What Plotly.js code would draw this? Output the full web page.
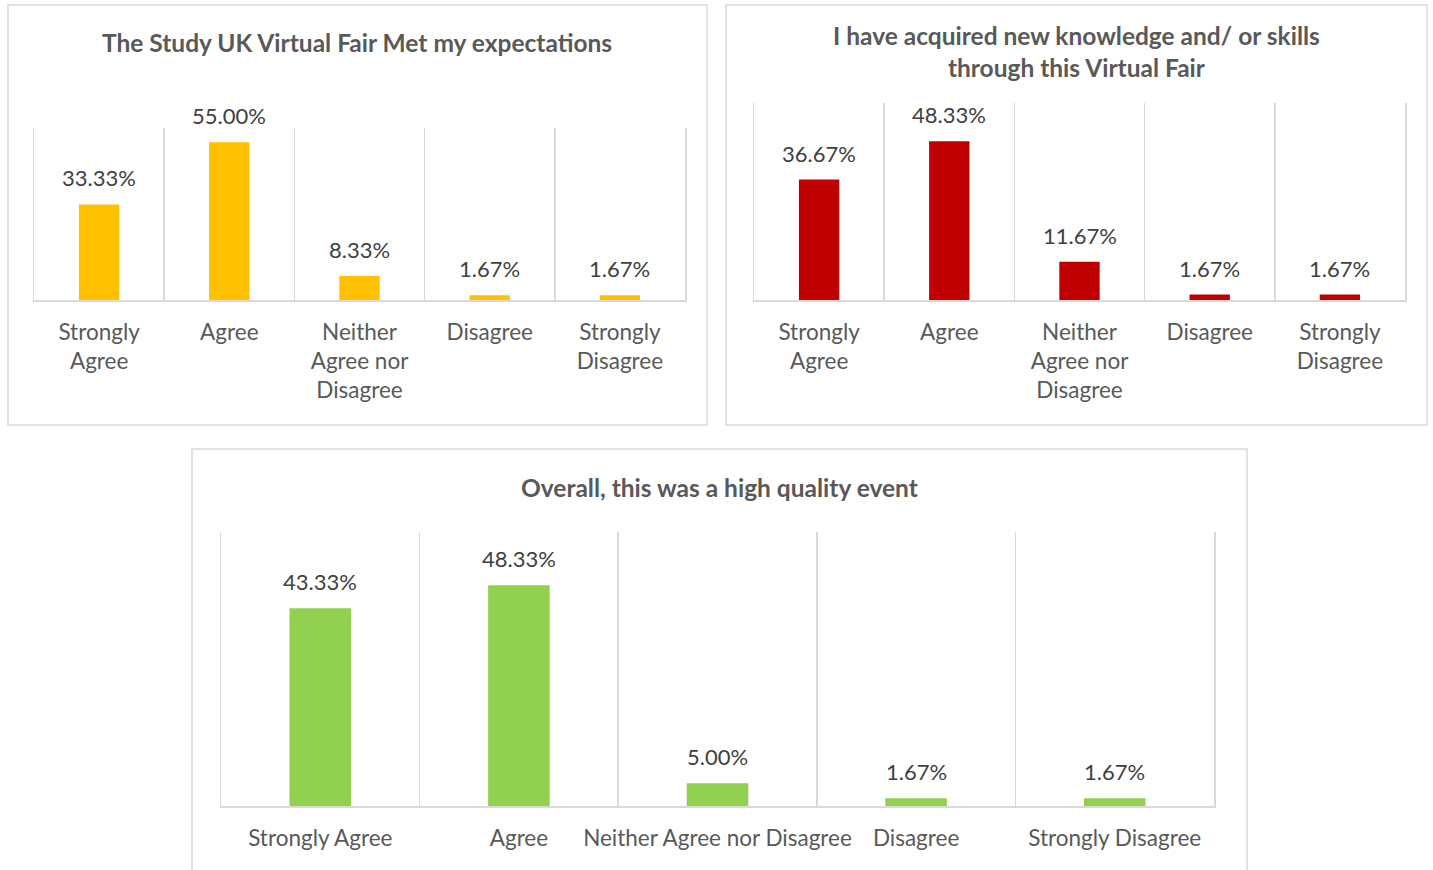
<!DOCTYPE html>
<html>
<head>
<meta charset="utf-8">
<script src="https://cdn.plot.ly/plotly-3.0.1.min.js"></script>
<style>html,body{margin:0;padding:0;background:#fff;}#chart{width:1433px;height:870px;}</style>
</head>
<body>
<div id="chart"></div>
<script>
const catsWrapped = ["Strongly<br>Agree", "Agree", "Neither<br>Agree nor<br>Disagree", "Disagree", "Strongly<br>Disagree"];
const catsFlat = ["Strongly Agree", "Agree", "Neither Agree nor Disagree", "Disagree", "Strongly Disagree"];
const expectations = [33.33, 55.00, 8.33, 1.67, 1.67];
const knowledge = [36.67, 48.33, 11.67, 1.67, 1.67];
const quality = [43.33, 48.33, 5.00, 1.67, 1.67];
const titles = [
  "The Study UK Virtual Fair Met my expectations",
  "I have acquired new knowledge and/ or skills<br>through this Virtual Fair",
  "Overall, this was a high quality event"
];
const colors = ["#FFC000", "#C00000", "#92D050"];

const FONT = "Lato, 'Open Sans', sans-serif";
const W = 1433, H = 870;
const px = x => x / W;
const py = y => 1 - y / H;

function barTrace(cats, vals, color, xa, ya) {
  return {
    type: "bar", x: cats, y: vals, xaxis: xa, yaxis: ya,
    marker: {color: color},
    hoverinfo: "skip"
  };
}
function labels(cats, vals, xa, ya) {
  return cats.map((c, i) => ({
    xref: xa, yref: ya, x: c, y: vals[i],
    text: vals[i].toFixed(2) + "%", showarrow: false,
    xanchor: "center", yanchor: "bottom", yshift: 11,
    font: {family: FONT, size: 22, color: "#404040"}
  }));
}

const data = [
  barTrace(catsWrapped, expectations, colors[0], "x", "y"),
  barTrace(catsWrapped, knowledge, colors[1], "x2", "y2"),
  barTrace(catsFlat, quality, colors[2], "x3", "y3")
];

function xax(domain, anchor) {
  return {
    domain: domain, anchor: anchor, type: "category",
    tickson: "boundaries", showgrid: true, gridcolor: "#d9d9d9", gridwidth: 1.5,
    showline: true, linecolor: "#d9d9d9", linewidth: 1.5,
    ticks: "", tickangle: 0, tickfont: {family: FONT, size: 22.5, color: "#595959"},
    ticklabelstandoff: 11, fixedrange: true
  };
}
function yax(domain, anchor) {
  return {
    domain: domain, anchor: anchor, range: [0, 60],
    showgrid: false, zeroline: false, showticklabels: false, ticks: "",
    showline: true, mirror: true, linecolor: "#d9d9d9", linewidth: 1.5, fixedrange: true
  };
}

const boxLine = {color: "#d9d9d9", width: 1.5};
const titleFont = {family: FONT, size: 24.5, color: "#595959"};
const layout = {
  width: W, height: H,
  margin: {l: 0, r: 0, t: 0, b: 0},
  paper_bgcolor: "#ffffff", plot_bgcolor: "rgba(0,0,0,0)",
  showlegend: false, bargap: 0.69,
  font: {family: FONT, color: "#595959"},
  xaxis: xax([px(34), px(685)], "y"),
  yaxis: yax([py(300), py(128)], "x"),
  xaxis2: xax([px(754), px(1405)], "y2"),
  yaxis2: yax([py(300), py(103)], "x2"),
  xaxis3: xax([px(221), px(1214)], "y3"),
  yaxis3: yax([py(806), py(532)], "x3"),
  shapes: [
    {type: "rect", xref: "paper", yref: "paper", x0: px(8), x1: px(707), y0: py(425), y1: py(5), line: boxLine, layer: "below"},
    {type: "rect", xref: "paper", yref: "paper", x0: px(726), x1: px(1427), y0: py(425), y1: py(5), line: boxLine, layer: "below"},
    {type: "rect", xref: "paper", yref: "paper", x0: px(192), x1: px(1247), y0: py(880), y1: py(449), line: boxLine, layer: "below"}
  ],
  annotations: [
    {xref: "paper", yref: "paper", x: px(357), y: py(43), text: "<b>" + titles[0] + "</b>", showarrow: false, xanchor: "center", yanchor: "middle", font: titleFont},
    {xref: "paper", yref: "paper", x: px(1076), y: py(51), text: "<b>" + titles[1].replace("<br>", "</b><br><b>") + "</b>", showarrow: false, xanchor: "center", yanchor: "middle", font: titleFont},
    {xref: "paper", yref: "paper", x: px(719), y: py(487), text: "<b>" + titles[2] + "</b>", showarrow: false, xanchor: "center", yanchor: "middle", font: titleFont}
  ].concat(labels(catsWrapped, expectations, "x", "y"))
   .concat(labels(catsWrapped, knowledge, "x2", "y2"))
   .concat(labels(catsFlat, quality, "x3", "y3"))
};

Plotly.newPlot("chart", data, layout, {displayModeBar: false, staticPlot: true});
</script>
</body>
</html>
